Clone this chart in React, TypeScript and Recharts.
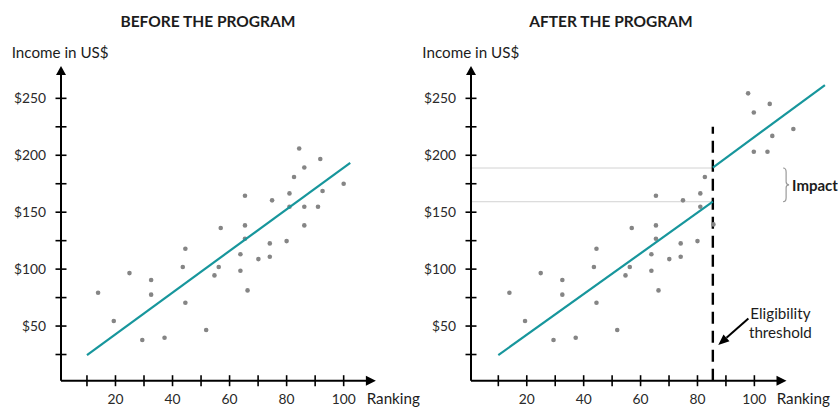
import React from 'react';
import { ComposedChart, Scatter, XAxis, YAxis, ReferenceLine, ReferenceDot } from 'recharts';

// ---- data ----
const commonRank = [13.9, 19.4, 24.9, 29.4, 32.5, 32.5, 37.2, 43.6, 44.5, 44.5, 51.8, 54.7, 56.2, 56.9, 63.8, 63.8, 65.4, 65.4, 65.4, 66.3, 70.1, 74.1, 74.1, 74.9, 80.0, 81.0, 81.0, 82.6];
const commonIncome = [79.3, 54.4, 96.5, 37.7, 90.5, 77.6, 39.7, 101.8, 117.9, 70.5, 46.5, 94.5, 101.8, 136.1, 113.0, 98.6, 164.5, 138.4, 126.7, 81.3, 108.8, 122.6, 110.9, 160.4, 124.6, 166.5, 154.8, 180.9];
const beforeExtraRank = [84.4, 86.2, 86.2, 86.2, 91.0, 91.8, 92.6, 100.0];
const beforeExtraIncome = [206.0, 189.3, 154.8, 138.4, 154.8, 196.7, 168.6, 175.0];
const afterExtraRank = [85.6, 97.8, 99.8, 105.4, 106.3, 99.8, 104.6, 113.7];
const afterExtraIncome = [139.3, 254.4, 237.5, 245.1, 217.0, 203.1, 203.1, 223.1];

const fitBeforeRank = [10, 102.3];
const fitBeforeIncome = [24.5, 193.4];
const fitAfterLowRank = [10, 85.4];
const fitAfterLowIncome = [24.5, 159.2];
const fitAfterHighRank = [85.4, 124.8];
const fitAfterHighIncome = [189.2, 261.7];

const thresholdRank = 85.4;
const thresholdTop = 225;
const impactLevels = [159.2, 188.8];
const impactBraceRank = 110.8;
const eligibilityArrowRank = [97.9, 87.3];
const eligibilityArrowIncome = [56.7, 33.3];

const xTicks = [10, 20, 30, 40, 50, 60, 70, 80, 90, 100];
const yTicks = [25, 50, 75, 100, 125, 150, 175, 200, 225, 250];
const xLabelEvery = 20;
const yLabelEvery = 50;

const toPoints = (xs: number[], ys: number[]) => xs.map((x, i) => ({ x, y: ys[i] }));

const beforePoints = toPoints([...commonRank, ...beforeExtraRank], [...commonIncome, ...beforeExtraIncome]);
const afterPoints = toPoints([...commonRank, ...afterExtraRank], [...commonIncome, ...afterExtraIncome]);
const fitBefore = toPoints(fitBeforeRank, fitBeforeIncome);
const fitAfterLow = toPoints(fitAfterLowRank, fitAfterLowIncome);
const fitAfterHigh = toPoints(fitAfterHighRank, fitAfterHighIncome);

// ---- styles ----
const FONT = 'Lato, "Open Sans", "DejaVu Sans", sans-serif';
const TEAL = '#17969c';
const DOT = '#858585';
const INK = '#1c1c1c';
const Y_MIN = 2;
const Y_MAX = 290;
const X_ARROW_TIP = 111.3;
const Y_ARROW_TIP = 278.3;
const AXIS_W = 61;

const XTick = (props: any) => {
  const { x, y, payload } = props;
  const v = payload.value;
  return (
    <g>
      <line x1={x} x2={x} y1={y - 5.5} y2={y + 5.5} stroke="#000" strokeWidth={1.6} />
      {v % xLabelEvery === 0 && (
        <text x={x} y={y + 23.3} textAnchor="middle" fontSize={13.8} fill="#2a2a2a" fontFamily={FONT}>
          {v}
        </text>
      )}
    </g>
  );
};

const YTick = (props: any) => {
  const { y, payload } = props;
  const v = payload.value;
  const x = AXIS_W;
  return (
    <g>
      <line x1={x - 5.5} x2={x + 5.5} y1={y} y2={y} stroke="#000" strokeWidth={1.6} />
      {v % yLabelEvery === 0 && (
        <text x={x - 15} y={y} dy={4.8} textAnchor="end" fontSize={13.8} fill="#2a2a2a" fontFamily={FONT}>
          {'$' + v}
        </text>
      )}
    </g>
  );
};

const dotShape = (p: any) => <circle cx={p.cx} cy={p.cy} r={2.3} fill={DOT} />;
const noShape = () => <g />;

const upArrow = (p: any) => (
  <polygon points={`${p.cx},${p.cy} ${p.cx - 5},${p.cy + 9} ${p.cx + 5},${p.cy + 9}`} fill="#000" />
);
const rightArrow = (p: any) => (
  <polygon points={`${p.cx},${p.cy} ${p.cx - 10},${p.cy - 5} ${p.cx - 10},${p.cy + 5}`} fill="#000" />
);

const braceShape = (p: any) => {
  const { x1, y1, y2 } = p;
  const top = Math.min(y1, y2);
  const bot = Math.max(y1, y2);
  const mid = (top + bot) / 2;
  const x0 = x1 - 2;
  const d = `M ${x0} ${top} Q ${x0 + 3} ${top} ${x0 + 3} ${top + 4} L ${x0 + 3} ${mid - 3} Q ${x0 + 3} ${mid} ${x0 + 6} ${mid} Q ${x0 + 3} ${mid} ${x0 + 3} ${mid + 3} L ${x0 + 3} ${bot - 4} Q ${x0 + 3} ${bot} ${x0} ${bot}`;
  return (
    <g>
      <path d={d} fill="none" stroke="#9a9a9a" strokeWidth={1.2} />
      <text x={x1 + 7} y={mid + 6} fontSize={15} fontWeight={700} fill={INK} fontFamily={FONT}>
        Impact
      </text>
    </g>
  );
};

const eligibilityShape = (p: any) => {
  const { x1, y1, x2, y2 } = p;
  const ang = Math.atan2(y2 - y1, x2 - x1);
  const len = 11;
  const half = 4.5;
  const bx = x2 - len * Math.cos(ang);
  const by = y2 - len * Math.sin(ang);
  const px = -Math.sin(ang) * half;
  const py = Math.cos(ang) * half;
  return (
    <g>
      <line x1={x1} y1={y1} x2={bx} y2={by} stroke="#000" strokeWidth={2} />
      <polygon points={`${x2},${y2} ${bx + px},${by + py} ${bx - px},${by - py}`} fill="#000" />
      <text x={x1 + 32} y={y1 + 1} textAnchor="middle" fontSize={15.2} fill={INK} fontFamily={FONT}>
        Eligibility
      </text>
      <text x={x1 + 32} y={y1 + 19.4} textAnchor="middle" fontSize={15.2} fill={INK} fontFamily={FONT}>
        threshold
      </text>
    </g>
  );
};

type PanelProps = {
  left: number;
  width: number;
  xMin: number;
  xMax: number;
  marginRight: number;
  points: { x: number; y: number }[];
  fits: { x: number; y: number }[][];
  after?: boolean;
};

const Panel = ({ left, width, xMin, xMax, marginRight, points, fits, after }: PanelProps) => (
  <div style={{ position: 'absolute', left, top: 0 }}>
    <ComposedChart width={width} height={407} margin={{ top: 52.8, right: marginRight, left: 0, bottom: 0 }}>
      <XAxis
        type="number"
        dataKey="x"
        domain={[xMin, xMax]}
        allowDataOverflow
        ticks={xTicks}
        interval={0}
        height={26.3}
        axisLine={false}
        tickLine={false}
        tickSize={0}
        tickMargin={0}
        tick={<XTick />}
      />
      <YAxis
        type="number"
        dataKey="y"
        domain={[Y_MIN, Y_MAX]}
        allowDataOverflow
        ticks={yTicks}
        interval={0}
        width={AXIS_W}
        axisLine={false}
        tickLine={false}
        tickSize={0}
        tickMargin={0}
        tick={<YTick />}
      />
      {after &&
        impactLevels.map((lv) => (
          <ReferenceLine
            key={'imp' + lv}
            segment={[{ x: xMin, y: lv }, { x: thresholdRank, y: lv }]}
            stroke="#d2d2d2"
            strokeWidth={1}
            ifOverflow="visible"
          />
        ))}
      <ReferenceLine
        segment={[{ x: xMin, y: Y_MIN }, { x: xMin, y: Y_ARROW_TIP - 6 }]}
        stroke="#000"
        strokeWidth={2}
        ifOverflow="visible"
      />
      <ReferenceLine
        segment={[{ x: xMin, y: Y_MIN }, { x: X_ARROW_TIP - 3, y: Y_MIN }]}
        stroke="#000"
        strokeWidth={2}
        ifOverflow="visible"
      />
      <ReferenceDot x={xMin} y={Y_ARROW_TIP} ifOverflow="visible" shape={upArrow} />
      <ReferenceDot x={X_ARROW_TIP} y={Y_MIN} ifOverflow="visible" shape={rightArrow} />
      <Scatter data={points} shape={dotShape} isAnimationActive={false} />
      {fits.map((f, i) => (
        <Scatter
          key={'fit' + i}
          data={f}
          shape={noShape}
          line={{ stroke: TEAL, strokeWidth: 2.2 }}
          isAnimationActive={false}
        />
      ))}
      {after && (
        <ReferenceLine
          segment={[{ x: thresholdRank, y: Y_MIN }, { x: thresholdRank, y: thresholdTop }]}
          stroke="#000"
          strokeWidth={2.4}
          strokeDasharray="12 7"
          ifOverflow="visible"
        />
      )}
      {after && (
        <ReferenceLine
          segment={[{ x: impactBraceRank, y: impactLevels[1] }, { x: impactBraceRank, y: impactLevels[0] }]}
          shape={braceShape}
          ifOverflow="visible"
        />
      )}
      {after && (
        <ReferenceLine
          segment={[
            { x: eligibilityArrowRank[0], y: eligibilityArrowIncome[0] },
            { x: eligibilityArrowRank[1], y: eligibilityArrowIncome[1] },
          ]}
          shape={eligibilityShape}
          ifOverflow="visible"
        />
      )}
    </ComposedChart>
  </div>
);

export default function App() {
  return (
    <div style={{ position: 'absolute', left: 0, top: 0, width: 838, height: 407, background: '#fff', fontFamily: FONT }}>
      <Panel left={0} width={400} xMin={0.9} xMax={112} marginRight={22.1} points={beforePoints} fits={[fitBefore]} />
      <Panel
        left={410}
        width={428}
        xMin={0.4}
        xMax={127}
        marginRight={6.8}
        points={afterPoints}
        fits={[fitAfterLow, fitAfterHigh]}
        after
      />
      <svg width={838} height={407} style={{ position: 'absolute', left: 0, top: 0, pointerEvents: 'none' }}>
        <g fontFamily={FONT} fill={INK}>
          <text x={208} y={26.7} textAnchor="middle" fontSize={15.5} fontWeight={700}>
            BEFORE THE PROGRAM
          </text>
          <text x={611} y={26.7} textAnchor="middle" fontSize={15.5} fontWeight={700}>
            AFTER THE PROGRAM
          </text>
          <text x={11.7} y={58.3} fontSize={15.2}>
            Income in US$
          </text>
          <text x={422.3} y={58.3} fontSize={15.2}>
            Income in US$
          </text>
          <text x={366.7} y={404} fontSize={15.2}>
            Ranking
          </text>
          <text x={776.7} y={404} fontSize={15.2}>
            Ranking
          </text>
        </g>
      </svg>
    </div>
  );
}
